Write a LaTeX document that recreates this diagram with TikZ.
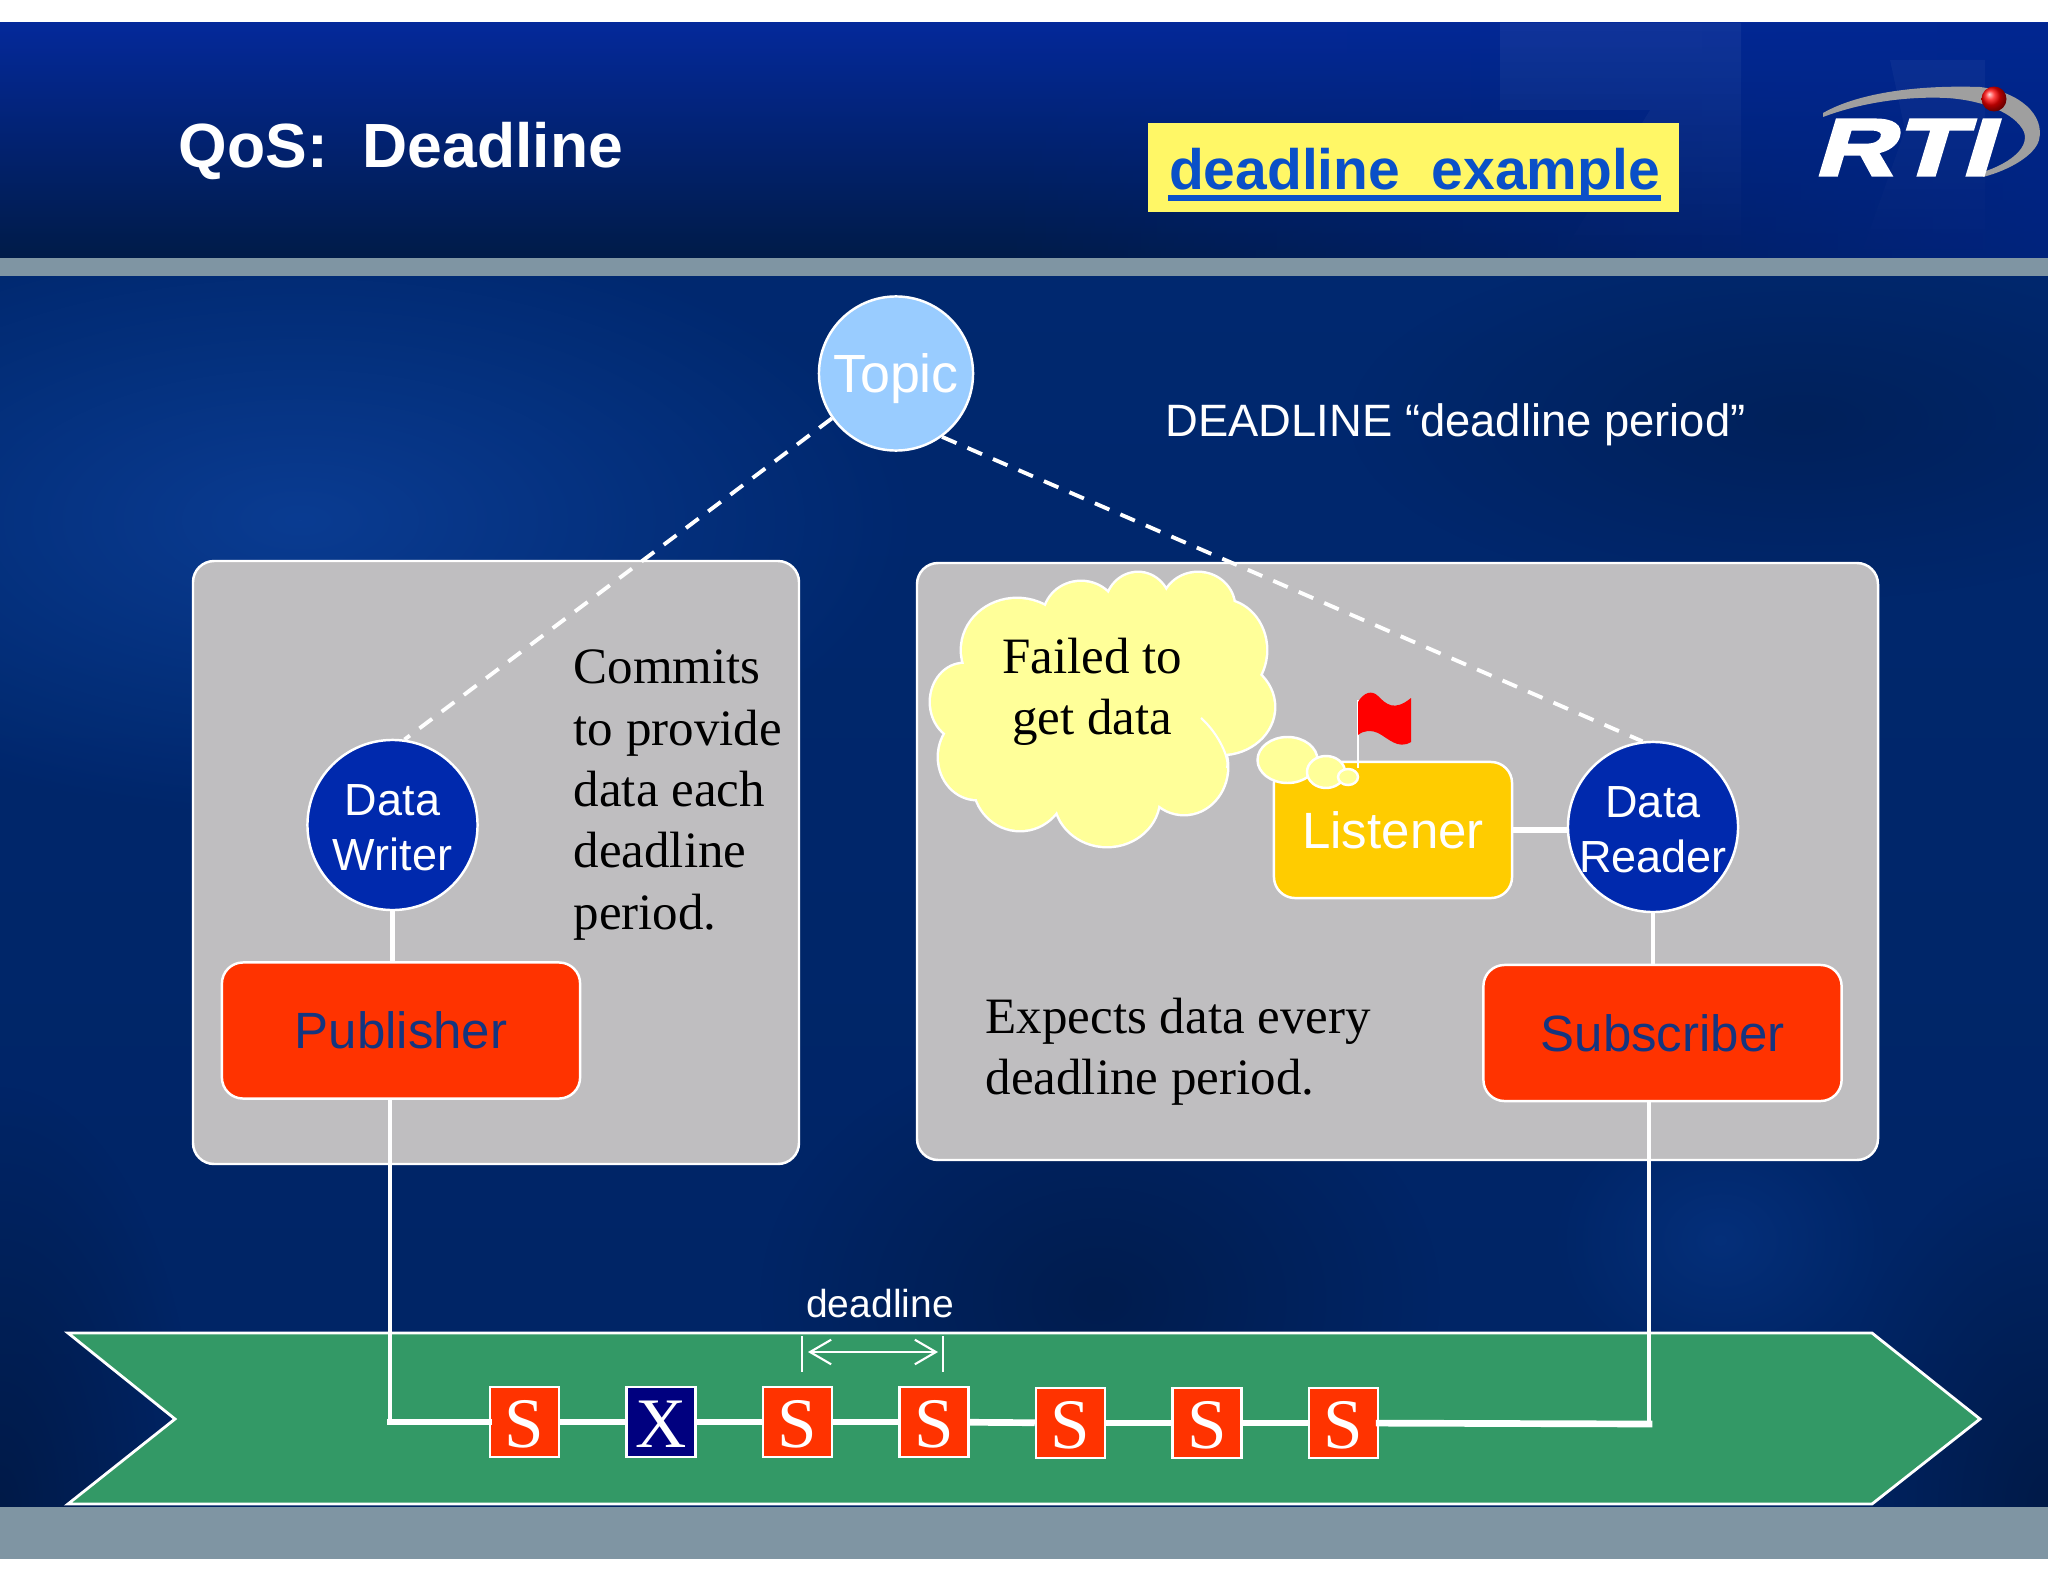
\documentclass[tikz,border=0pt]{standalone}
\usepackage{fontspec}
\setmainfont{Liberation Serif}
\setsansfont{Liberation Sans}
\newfontfamily\rtifont[FakeBold=4,FakeSlant=0.3,FakeStretch=1.38]{Liberation Sans Bold}
\usetikzlibrary{arrows.meta,fadings}

\definecolor{headtop}{HTML}{04299A}
\definecolor{headlow}{HTML}{001B48}
\definecolor{headright}{HTML}{00268E}
\definecolor{bodytop}{HTML}{00286F}
\definecolor{bodymid}{HTML}{06388E}
\definecolor{bodylow}{HTML}{002464}
\definecolor{bodydark}{HTML}{001A48}
\definecolor{bodylight}{HTML}{0A3C92}
\definecolor{barcol}{HTML}{7F95A3}
\definecolor{panelcol}{HTML}{BFBEC0}
\definecolor{redcol}{HTML}{FF3300}
\definecolor{navycol}{HTML}{00007F}
\definecolor{bluecol}{HTML}{0029AD}
\definecolor{lightblue}{HTML}{99CCFF}
\definecolor{goldcol}{HTML}{FFCC00}
\definecolor{creamcol}{HTML}{FFFF99}
\definecolor{greencol}{HTML}{339966}
\definecolor{linkblue}{HTML}{0A50C8}
\definecolor{labelblue}{HTML}{14357F}

\tikzfading[name=riseright, left color=transparent!100, right color=transparent!0]
\tikzfading[name=blob, inner color=transparent!0, outer color=transparent!100]
\tikzfading[name=fadedown, top color=transparent!0, bottom color=transparent!100]

\tikzset{
  panel/.style={draw=white, line width=0.7pt, fill=panelcol, rounded corners=6pt},
  entity/.style={draw=white, line width=0.7pt, fill=bluecol, circle, minimum size=1.7cm, inner sep=0pt,
    text=white, align=center, text height=25.9pt, text depth=0pt, font=\sffamily\fontsize{12.8}{15.6}\selectfont},
  redbox/.style={draw=white, line width=0.7pt, fill=redcol, rounded corners=6pt, minimum width=3.58cm, minimum height=1.36cm,
    inner sep=0pt, text=labelblue, font=\sffamily\fontsize{14.5}{17}\selectfont},
  slot/.style={draw=white, line width=0.7pt, fill=redcol, minimum width=0.69cm, minimum height=0.7cm, inner sep=0pt,
    text=white, text height=14.6pt, text depth=0pt, font=\fontsize{20.2}{24}\selectfont},
  words/.style={inner sep=0pt, align=left, text=black, font=\fontsize{14.5}{17.47}\selectfont},
  link/.style={draw=white, line width=1.9pt},
  riser/.style={draw=white, line width=1.3pt},
  dashlink/.style={draw=white, line width=1.1pt, dash pattern=on 4.5pt off 3.4pt},
  puff/.style={fill=creamcol},
}

\begin{document}
\begin{tikzpicture}[x=0.01cm, y=-0.01cm]

\useasboundingbox (0,0) rectangle (2048,1582);
\fill[white] (0,0) rectangle (2048,1582);

% slide background
\shade[top color=headtop, bottom color=headlow] (0,23) rectangle (2048,258);
\fill[headright, opacity=0.75, path fading=riseright] (1000,23) rectangle (2048,258);
\fill[white, opacity=0.06, path fading=fadedown] (1500,23) -- (1741,23) -- (1741,258) -- (1560,258) -- (1650,110) -- (1500,110) -- cycle;
\fill[white, opacity=0.04, path fading=fadedown] (1890,60) -- (1985,60) -- (1985,258) -- (1860,258) -- (1905,130) -- cycle;
\shade[top color=bodytop, middle color=bodymid, bottom color=bodylow] (0,276) rectangle (2048,1507);
\begin{scope}
\clip (0,276) rectangle (2048,1507);
\fill[bodylight, path fading=blob] (300,520) ellipse (620 and 300);
\fill[bodydark, path fading=blob] (0,1507) ellipse (200 and 420);
\fill[bodydark, path fading=blob] (2048,1507) ellipse (220 and 350);
\fill[bodydark, opacity=0.8, path fading=blob] (1100,1300) ellipse (340 and 260);
\fill[bodydark, opacity=0.5, path fading=blob] (1800,420) ellipse (450 and 180);
\fill[bodylight, opacity=0.45, path fading=blob] (1720,1240) ellipse (170 and 140);
\end{scope}
\fill[barcol] (0,258) rectangle (2048,276);
\fill[barcol] (0,1507) rectangle (2048,1559);

% title
\draw (178,151) node[anchor=west, inner sep=0pt, text=white, font=\sffamily\bfseries\fontsize{17.76}{20}\selectfont] (title) {QoS:\ \ Deadline};
\fill[yellow!60!white] (1148,123) rectangle (1679,212);
\draw (1414.5,190) node[anchor=base, inner sep=0pt, text=linkblue, font=\sffamily\bfseries\fontsize{16.2}{20}\selectfont] (example) {deadline\ \ example};
\draw[linkblue, line width=1.7pt] ([yshift=-2.3pt]example.base west) -- ([yshift=-2.3pt]example.base east);

% logo
\fill[gray!75] (1823,113) .. controls (1860,92) and (1920,85) .. (1980,87) .. controls (2020,92) and (2045,115) .. (2039,140)
  .. controls (2035,155) and (2010,170) .. (1983,177) -- (1983,172) .. controls (2005,165) and (2030,150) .. (2024,132)
  .. controls (2015,112) and (1980,100) .. (1947,98) .. controls (1905,96) and (1860,103) .. (1823,117) -- cycle;
\shade[ball color=red] (1994,99) circle (12.5);
\draw (1902,175) node[anchor=base, inner sep=0pt, text=white, font=\rtifont\fontsize{22.7}{26}\selectfont] (logo) {RTI};

% panels
\draw[panel] (193,561) rectangle (799,1164);
\draw[panel] (917,563) rectangle (1878,1160);

% nodes
\draw (896,373.5) node[entity, fill=lightblue, minimum size=1.54cm, text height=14pt, text depth=3.4pt, font=\sffamily\fontsize{15.3}{17}\selectfont] (topic) {Topic};
\draw (392.5,825) node[entity] (writer) {Data\\Writer};
\draw (1653,827) node[entity] (reader) {Data\\\makebox[0pt]{Reader}};
\draw (401,1030.5) node[redbox] (publisher) {Publisher};
\draw (1662.5,1033) node[redbox] (subscriber) {Subscriber};
\draw (1393,830) node[redbox, fill=goldcol, minimum width=2.38cm, text=white] (listener) {Listener};

\draw (1165,425) node[anchor=west, inner sep=0pt, text=white, font=\sffamily\fontsize{12.9}{15}\selectfont] (qosline) {DEADLINE “deadline period”};

\draw[dashlink] (topic.215) -- (writer.82);
\draw[dashlink] (topic.306) -- (reader.97);

\draw[riser] (writer.south) -- (writer.south |- publisher.north);
\draw[riser] (reader.south) -- (reader.south |- subscriber.north);
\draw[link] (listener.east) -- (reader.west |- listener.east);

% texts in the panels
\draw (573,795) node[words, anchor=west] (commits) {Commits\\to provide\\data each\\deadline\\period.};
\draw (985,1052) node[words, anchor=west] (expects) {Expects data every\\deadline period.};

% cloud
\draw[white, line width=1.4pt]
  (1017,650) ellipse (55 and 51) (1081,617) ellipse (37 and 35) (1138,607) ellipse (32 and 34)
  (1198,607) ellipse (36 and 34) (1221,650) ellipse (45 and 50) (1221,707) ellipse (53 and 47)
  (1184,767) ellipse (43 and 47) (1107,798) ellipse (52 and 48) (1020,783) ellipse (46 and 47)
  (977,757) ellipse (38 and 42) (964,702) ellipse (33 and 38);
\fill[puff]
  (1017,650) ellipse (55 and 51) (1081,617) ellipse (37 and 35) (1138,607) ellipse (32 and 34)
  (1198,607) ellipse (36 and 34) (1221,650) ellipse (45 and 50) (1221,707) ellipse (53 and 47)
  (1184,767) ellipse (43 and 47) (1107,798) ellipse (52 and 48) (1020,783) ellipse (46 and 47)
  (977,757) ellipse (38 and 42) (964,702) ellipse (33 and 38);
\fill[puff] (1095,700) ellipse (125 and 100);
\draw[white, line width=0.6pt] (1201,718) .. controls (1220,735) and (1230,760) .. (1227,768);
\draw (1092,692) node[words, align=center] (failed) {Failed to\\get data};

% flag
\draw[white, line width=0.5pt] (1358,700) -- (1358,768);
\fill[red] (1358,702) .. controls (1364,692) and (1372,690) .. (1378,696) .. controls (1386,704) and (1394,712) .. (1411,698)
  -- (1411,742) .. controls (1398,750) and (1388,738) .. (1378,733) .. controls (1372,730) and (1364,730) .. (1358,735) -- cycle;
\draw[white, line width=0.7pt, fill=creamcol] (1287.5,760) ellipse (30 and 23);
\draw[white, line width=0.7pt, fill=creamcol] (1326,772) ellipse (19 and 16);
\draw[white, line width=0.7pt, fill=creamcol] (1348,777) ellipse (10 and 8);

% timeline
\draw[white, line width=0.8pt, fill=greencol] (68,1333) -- (1872,1333) -- (1980,1419) -- (1872,1504) -- (68,1504) -- (175,1419) -- cycle;

\draw (524.5,1422) node[slot] (s1) {S};
\draw (661,1422) node[slot, fill=navycol] (x2) {X};
\draw (797.5,1422) node[slot] (s3) {S};
\draw (934,1422) node[slot] (s4) {S};
\draw (1070.5,1423) node[slot] (s5) {S};
\draw (1207,1423) node[slot] (s6) {S};
\draw (1343.5,1423) node[slot] (s7) {S};

\coordinate (pubcorner) at (390,1422);
\coordinate (subcorner) at (1649,1424);

\draw[riser] (pubcorner |- publisher.south) -- (pubcorner);
\draw[riser] (subcorner |- subscriber.south) -- (subcorner);
\draw[link, line cap=rect] (pubcorner) -- (s1);
\draw[link] (s1) -- (x2);
\draw[link] (x2) -- (s3);
\draw[link] (s3) -- (s4);
\draw[link] (s4) -- (s5);
\draw[link] (s5) -- (s6);
\draw[link] (s6) -- (s7);
\draw[link, line cap=rect] (s7) -- (subcorner);

% deadline mark
\coordinate (tickA) at (802,1336);
\coordinate (tickB) at (943,1336);
\coordinate (spanA) at (808,1352);
\coordinate (spanB) at (938,1352);
\draw[white, line width=0.4pt] (tickA) -- ++(0,36);
\draw[white, line width=0.4pt] (tickB) -- ++(0,36);
\draw[white, line width=0.6pt, {Straight Barb[length=6pt,width=7pt]}-{Straight Barb[length=6pt,width=7pt]}] (spanA) -- (spanB);
\draw (880,1304) node[inner sep=0pt, text=white, font=\sffamily\fontsize{11.1}{13}\selectfont] (span) {deadline};

\end{tikzpicture}
\end{document}
